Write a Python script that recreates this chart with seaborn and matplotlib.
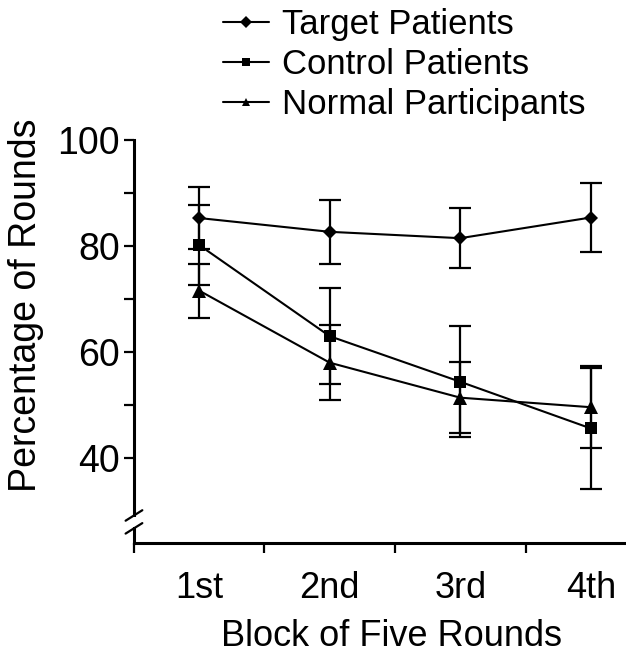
import numpy as np
import pandas as pd
import matplotlib
matplotlib.use("Agg")
import matplotlib.pyplot as plt
import seaborn as sns

# data
blocks = [1, 2, 3, 4]
block_labels = ["1st", "2nd", "3rd", "4th"]
groups = ["Target Patients", "Control Patients", "Normal Participants"]
target_mean = [85.3, 82.7, 81.5, 85.4]
target_err = [5.9, 6.0, 5.7, 6.5]
control_mean = [80.2, 63.0, 54.4, 45.6]
control_err = [7.6, 9.1, 10.5, 11.4]
normal_mean = [71.6, 58.0, 51.4, 49.6]
normal_err = [5.1, 7.1, 6.7, 7.7]

sns.set_theme(style="ticks")
plt.rcParams["font.family"] = ["Liberation Sans", "DejaVu Sans"]
plt.rcParams["text.color"] = "black"
plt.rcParams["axes.labelcolor"] = "black"
plt.rcParams["xtick.color"] = "black"
plt.rcParams["ytick.color"] = "black"

df = pd.DataFrame({
    "block": blocks * 3,
    "pct": target_mean + control_mean + normal_mean,
    "err": target_err + control_err + normal_err,
    "group": np.repeat(groups, len(blocks)),
})

fig = plt.figure(figsize=(6.26, 6.58), dpi=100)
ax = fig.add_axes([0.214, 0.175, 0.786, 0.612])

markers = {"Target Patients": "D", "Control Patients": "s", "Normal Participants": "^"}
sns.lineplot(data=df, x="block", y="pct", hue="group", style="group",
             palette=["black"] * 3, markers=markers, dashes=False,
             linewidth=1.5, markersize=8, markeredgewidth=0, ax=ax, legend=True)
# per-group marker sizes
for line, ms in zip(ax.lines[:3], [7.5, 8, 10]):
    line.set_markersize(ms)

for g in groups:
    sub = df[df["group"] == g]
    ax.errorbar(sub["block"], sub["pct"], yerr=sub["err"], fmt="none",
                ecolor="black", elinewidth=1.6, capsize=8, capthick=1.6)

# axes styling
ax.set_xlim(0.5, 4.27)
ax.set_ylim(24, 100)
ax.set_yticks([40, 60, 80, 100])
ax.set_yticks([50, 70, 90], minor=True)
ax.set_xticks([0.5, 1.5, 2.5, 3.5])
ax.set_xticklabels([])
ax.set_xticks(blocks, minor=True)
ax.set_xticklabels(block_labels, minor=True)
ax.tick_params(axis="both", which="major", length=7, width=1.6, labelsize=27, pad=3)
ax.tick_params(axis="y", which="minor", length=7, width=1.6)
ax.tick_params(axis="x", which="minor", length=0, labelsize=26, pad=20)
sns.despine(ax=ax)
for s in ["left", "bottom"]:
    ax.spines[s].set_linewidth(2.2)
    ax.spines[s].set_color("black")

ax.set_xlabel("Block of Five Rounds", fontsize=26)
ax.xaxis.set_label_coords(0.524, -0.19)
ax.set_ylabel("Percentage of Rounds", fontsize=27)
ax.yaxis.set_label_coords(-0.183, 0.59)

# axis break on the y spine
ax.add_patch(plt.Rectangle((-0.02, 0.0395), 0.04, 0.0245, transform=ax.transAxes,
                           facecolor="white", edgecolor="none", clip_on=False, zorder=5))
for yc in [0.036, 0.068]:
    ax.plot([-0.017, 0.017], [yc - 0.013, yc + 0.013], color="black", lw=1.6,
            transform=ax.transAxes, clip_on=False, zorder=6)

# legend at the top of the figure
handles, labels = ax.get_legend_handles_labels()
ax.legend_.remove()
leg = fig.legend(handles, labels, loc="upper left", bbox_to_anchor=(0.318, 1.025),
                 frameon=False, fontsize=25, handlelength=1.3, handletextpad=0.4,
                 labelspacing=0.2, borderpad=0.2)
for h in leg.legend_handles:
    h.set_markersize(6)

fig.savefig("out.png", dpi=100)
